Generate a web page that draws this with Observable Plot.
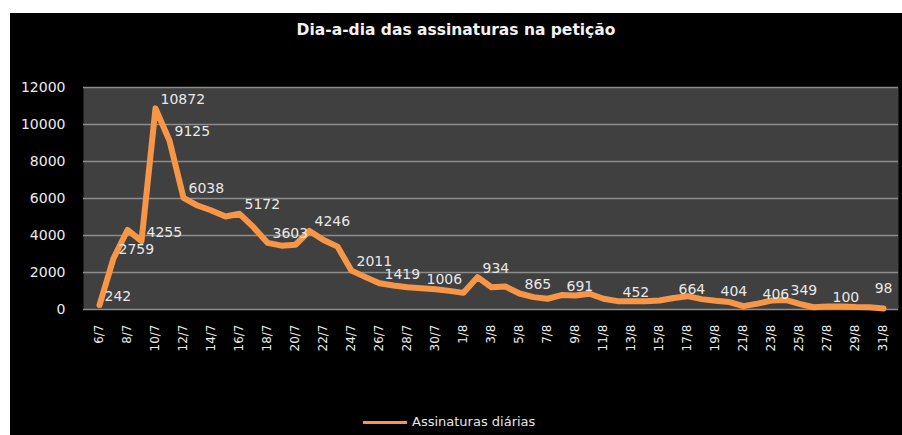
<!DOCTYPE html>
<html><head><meta charset="utf-8">
<script src="https://cdn.jsdelivr.net/npm/d3@7"></script>
<script src="https://cdn.jsdelivr.net/npm/@observablehq/plot@0.6"></script>
<style>
body{margin:0;background:#fff;width:902px;height:435px;overflow:hidden;font-family:"DejaVu Sans",sans-serif;}
#panel{position:absolute;left:10px;top:13px;width:892px;height:422px;background:#000;}
#title{position:absolute;left:0;width:892px;top:8px;line-height:18px;text-align:center;color:#f2f2f2;font-weight:bold;font-size:15.5px;}
#chart{position:absolute;left:0;top:50px;}
#legend{position:absolute;top:400px;left:353px;height:18px;line-height:18px;font-size:13px;color:#e6e6e6;white-space:nowrap;}
#legend .sw{display:inline-block;width:44px;height:3px;background:#F79646;vertical-align:middle;margin-right:5px;}
</style></head>
<body>
<div id="panel">
  <div id="title">Dia-a-dia das assinaturas na petição</div>
  <div id="chart"></div>
  <div id="legend"><span class="sw"></span>Assinaturas diárias</div>
</div>
<script>
const dates = ["6/7","7/7","8/7","9/7","10/7","11/7","12/7","13/7","14/7","15/7","16/7","17/7","18/7","19/7","20/7","21/7","22/7","23/7","24/7","25/7","26/7","27/7","28/7","29/7","30/7","31/7",
"1/8","2/8","3/8","4/8","5/8","6/8","7/8","8/8","9/8","10/8","11/8","12/8","13/8","14/8","15/8","16/8","17/8","18/8","19/8","20/8","21/8","22/8","23/8","24/8","25/8","26/8","27/8","28/8","29/8","30/8","31/8"];
const values = [242,2759,4300,3700,10872,9125,6038,5620,5350,5030,5172,4450,3603,3450,3500,4246,3760,3400,2100,1750,1419,1300,1200,1150,1100,1006,
900,1750,1200,1240,865,670,580,780,760,850,580,452,450,450,490,620,720,560,470,400,180,320,480,520,300,120,160,160,130,120,60];
const labelDates = ["6/7","7/7","9/7","10/7","11/7","12/7","16/7","18/7","21/7","24/7","26/7","29/7","2/8","5/8","8/8","12/8","16/8","19/8","22/8","24/8","27/8","31/8"];
const labelTexts = ["242","2759","4255","10872","9125","6038","5172","3603","4246","2011","1419","1006","934","865","691","452","664","404","406","349","100","98"];
const xTicks = ["6/7","8/7","10/7","12/7","14/7","16/7","18/7","20/7","22/7","24/7","26/7","28/7","30/7","1/8","3/8","5/8","7/8","9/8","11/8","13/8","15/8","17/8","19/8","21/8","23/8","25/8","27/8","29/8","31/8"];
const yTicks = [0,2000,4000,6000,8000,10000,12000];

const data = dates.map((d,i)=>({date:d, value:values[i]}));
const labels = labelDates.map((d,i)=>({date:d, value:values[dates.indexOf(d)], text:labelTexts[i]}));

const chart = Plot.plot({
  width: 892, height: 300,
  marginLeft: 73, marginRight: 4, marginTop: 24, marginBottom: 54,
  style: {background:"transparent", color:"#ececec", fontFamily:"DejaVu Sans, sans-serif", fontSize:"14px"},
  x: {type:"point", domain:dates, padding:0.5, label:null},
  y: {domain:[0,12000], label:null},
  marks: [
    Plot.frame({fill:"#404040", stroke:"none"}),
    Plot.ruleY(yTicks, {stroke:"#8c8c8c", strokeWidth:1.5}),
    Plot.line(data, {x:"date", y:"value", stroke:"#F79646", strokeWidth:6, strokeLinejoin:"round", strokeLinecap:"round"}),
    Plot.text(labels.slice(0,-1), {x:"date", y:"value", text:"text", textAnchor:"start", dx:5, dy:-9, fill:"#e8e8e8", fontSize:14}),
    Plot.text(labels.slice(-1), {x:"date", y:"value", text:"text", textAnchor:"end", dx:9, dy:-20, fill:"#e8e8e8", fontSize:14}),
    Plot.axisX({ticks:xTicks, tickSize:0, tickPadding:15, tickRotate:-90, fontSize:12, label:null}),
    Plot.axisY({ticks:yTicks, tickSize:0, tickPadding:18, tickFormat:d=>String(d), fontSize:14, label:null})
  ]
});
document.getElementById("chart").appendChild(chart);
</script>
</body></html>
